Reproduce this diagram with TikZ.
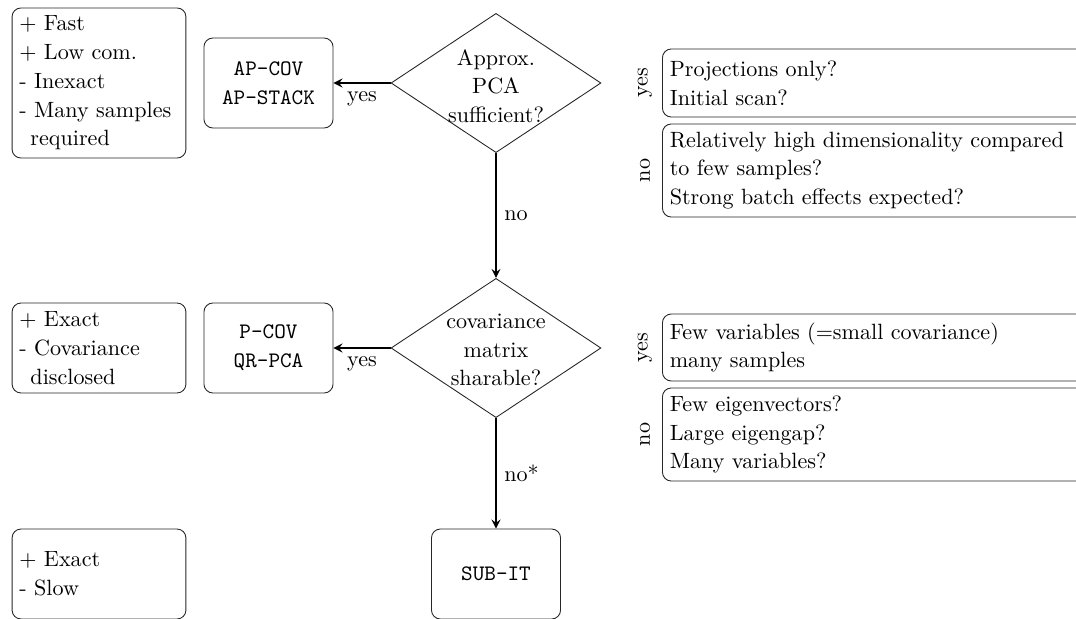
\documentclass[tikz,border=0pt]{standalone}
\usepackage{tikz}
\usetikzlibrary{shapes.geometric}

\tikzset{
  txt/.style={font=\fontsize{10pt}{13pt}\selectfont},
  note/.style={txt, draw=black!85, rounded corners=4pt, align=left, text width=72pt, minimum height=#1},
  algo/.style={draw=black!85, rounded corners=4pt, align=center, minimum width=58.4pt, minimum height=40.7pt, font=\fontsize{10pt}{13pt}\selectfont\ttfamily},
  decision/.style={draw=black!85, diamond, inner sep=0pt, minimum width=95pt, minimum height=63pt},
  hint/.style={txt, draw=black!85, rounded corners=4pt, align=left, text width=191pt, minimum height=#1, anchor=west}
}

\begin{document}
\begin{tikzpicture}[>=stealth, x=0.4525pt, y=-0.4525pt]
\useasboundingbox (0,0) rectangle (1076,619);

% pros and cons
\node[note=67.9pt] (pro1) at (99,83) {+ Fast\\+ Low com.\\- Inexact\\- Many samples\\\hspace{0.5em}required};
\node[note=40.7pt] (pro2) at (99,348) {+ Exact\\- Covariance\\\hspace{0.5em}disclosed};
\node[note=40.7pt] (pro3) at (99,574) {+ Exact\\- Slow};

% algorithms
\node[algo] (ap) at (268.5,83) {AP-COV\\AP-STACK};
\node[algo] (pc) at (268.5,348) {P-COV\\QR-PCA};
\node[algo] (sub) at (496,574) {SUB-IT};

% questions
\node[decision] (q1) at (496,83) {};
\node[txt, align=center] (q1text) at (496,86) {Approx.\\PCA\\sufficient?};
\node[decision] (q2) at (496,348) {};
\node[txt, align=center] (q2text) at (496,350) {covariance\\matrix\\sharable?};

\draw[->, thick] (q1.west) -- (ap.east) node[midway, below] {yes};
\draw[->, thick] (q1.south) -- (q2.north) node[midway, right] {no};
\draw[->, thick] (q2.west) -- (pc.east) node[midway, below] {yes};
\draw[->, thick] (q2.south) -- (sub.north) node[midway, right] {no*};

% hints
\node[rotate=90] (y1) at (645,83) {yes};
\node[hint=30.8pt] (h1) at (662,83) {Projections only?\\Initial scan?};
\node[rotate=90] (n1) at (645,170.5) {no};
\node[hint=42.1pt] (h2) at (662,170.5) {Relatively high dimensionality compared\\to few samples?\\Strong batch effects expected?};
\node[rotate=90] (y2) at (645,347.5) {yes};
\node[hint=30.3pt] (h3) at (662,347.5) {Few variables (=small covariance)\\many samples};
\node[rotate=90] (n2) at (645,434.5) {no};
\node[hint=42.1pt] (h4) at (662,434.5) {Few eigenvectors?\\Large eigengap?\\Many variables?};
\end{tikzpicture}
\end{document}
